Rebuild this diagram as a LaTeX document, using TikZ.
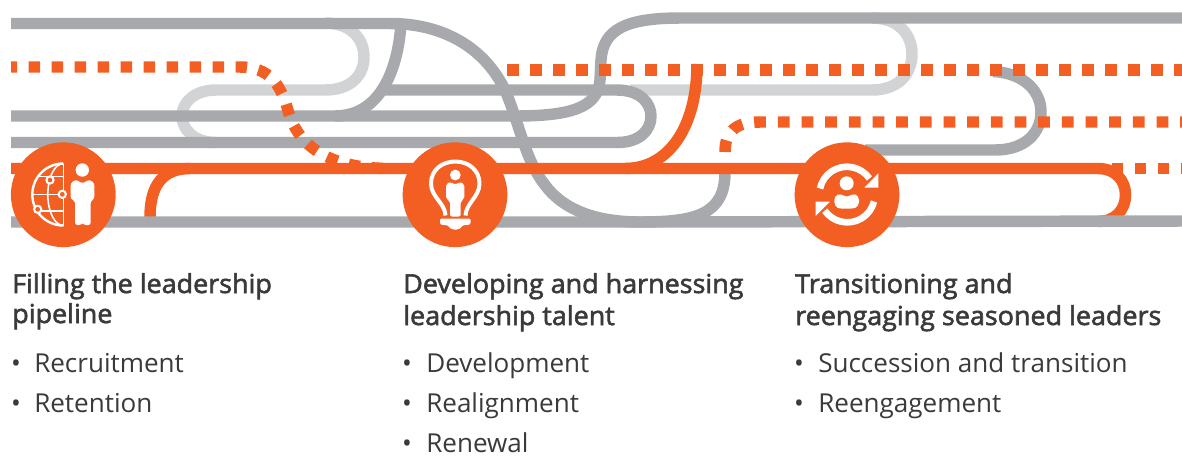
\documentclass[tikz,border=0pt]{standalone}
\usepackage{fontspec}
\setmainfont{Open Sans}
\newfontfamily\headfam{Open Sans}[FakeBold=2.2,FakeStretch=1.03]
\definecolor{gr}{HTML}{A7A9AC}
\definecolor{lg}{HTML}{D1D3D4}
\definecolor{og}{HTML}{F35E22}
\definecolor{tx}{HTML}{3A3A3C}
\newcommand{\headfont}{\headfam\fontsize{19.6pt}{24pt}\selectfont}
\newcommand{\itemfont}{\fontsize{19.55pt}{24pt}\selectfont}
\tikzset{
 lin/.style={line width=8.6pt,line join=round},
 grayline/.style={lin,draw=gr},
 lightline/.style={lin,draw=lg},
 orangeline/.style={lin,draw=og},
 dotline/.style={lin,draw=og,dash pattern=on 8.6pt off 8.65pt},
 disc/.style={circle,fill=og,minimum size=78.6pt,inner sep=0pt,draw=none},
 headtext/.style={anchor=base west,inner sep=0pt,text=tx,font=\headfont},
 itemtext/.style={anchor=base west,inner sep=0pt,text=tx,font=\itemfont},
 dotmark/.style={anchor=base,inner sep=0pt,text=tx,font=\itemfont},
 wline/.style={draw=white,line width=1.2pt},
 ring/.style={draw=white,fill=og,line width=1.5pt},
}
\begin{document}
\begin{tikzpicture}[x=0.75pt,y=-0.75pt]
\useasboundingbox (0,0) rectangle (1182,455);
% light gray
\draw[lightline] (325,23) .. controls (350,23) and (364,38) .. (364,57) .. controls (364,76) and (350,90) .. (325,90) -- (216,90) .. controls (195,90) and (182,102) .. (182,116) .. controls (182,130) and (195,142.5) .. (216,142.5);
\draw[lightline] (872,18) .. controls (898,18) and (912,34) .. (912,54) .. controls (912,74) and (898,90) .. (872,90) -- (630,90);
% gray
\draw[grayline] (11,23.5) -- (390,23.5) .. controls (440,23.5) and (483,45) .. (505,90) .. controls (520,125) and (525,160) .. (545,185) .. controls (565,212) and (600,222) .. (640,222);
\draw[grayline] (11,116) -- (335,116) .. controls (380,116) and (398,70) .. (401,23.5);
\draw[grayline] (380,90) -- (617,90) .. controls (640,90) and (651,103) .. (651,116) .. controls (651,130) and (640,142.5) .. (617,142.5) -- (11,142.5);
\draw[grayline] (335,116) -- (515,116) .. controls (570,116) and (598,108) .. (600,80) -- (601,60) .. controls (603,30) and (625,18) .. (680,18) -- (1182,18);
\draw[grayline] (640,222) .. controls (695,222) and (725,215) .. (725,172);
\draw[grayline] (993,71.5) .. controls (1025,73) and (1041,92) .. (1041,112) .. controls (1041,133) and (1025,150) .. (995,150) -- (865,150);
% orange
\draw[orangeline] (697,64) .. controls (697,125) and (670,168.5) .. (625,168.5);
\draw[orangeline] (150,217) .. controls (150,185) and (163,168.5) .. (190,168.5);
\draw[orangeline] (11,168.5) -- (1098,168.5) .. controls (1115,168.5) and (1125.5,180) .. (1125.5,195) .. controls (1125.5,210) and (1115,221.5) .. (1098,221.5);
\draw[dotline,dash phase=4.1pt] (11,67) -- (240,67) .. controls (270,67) and (280,85) .. (287,107) .. controls (294,135) and (315,168.5) .. (390,168.5);
\draw[dotline] (507.3,70) -- (1182,70);
\draw[dotline,dash pattern=on 8.85pt off 8.9pt] (725,152) .. controls (725,132) and (735,122) .. (760,122) -- (1182,122);
\draw[dotline] (1112,168.5) -- (1182,168.5);
\draw[grayline] (11,222) -- (640,222) -- (1182,221);
% discs
\node[disc] (c1) at (63.3,194.7) {};
\node[disc] (c2) at (455,194.7) {};
\node[disc] (c3) at (847,194.7) {};
% icon 1
\draw[wline] (63.3,163.5) arc (-90:-270:15.5 and 31);
\draw[wline] (63.3,163.5) -- (63.3,225.5);
\draw[white,line width=1.8pt] (63.3,163.5) arc (-90:-270:31);
\draw[wline] (39,176.5) -- (63.3,176.5) (32.5,194.5) -- (63.3,194.5) (38,211) -- (63.3,211);
\draw[ring] (50,180) circle (3.6);
\draw[ring] (62.3,194.3) circle (3.6);
\draw[ring] (37.7,209.3) circle (3.6);
\fill[white] (82.3,170) circle (6.7);
\fill[white,rounded corners=1.8] (70.7,183) -- (76,179.5) -- (82.5,183.5) -- (89,179.5) -- (94.3,183) -- (94.3,199) -- (90.7,201) -- (90.7,225) -- (83.5,225) -- (82.5,222) -- (81.5,225) -- (75,225) -- (75,201) -- (70.7,199) -- cycle;
% icon 2
\draw[white,line width=3pt,line join=round] (445.5,215.5) .. controls (445,203) and (431,197) .. (431,183.5) .. controls (431,170) and (442,161.5) .. (455.3,161.5) .. controls (468.5,161.5) and (479.5,170) .. (479.5,183.5) .. controls (479.5,197) and (466,203) .. (465.5,215.5);
\fill[white] (455.3,175) circle (5.4);
\fill[white,rounded corners=1.5] (446,184) -- (451,181.7) -- (455.3,185) -- (459.5,181.7) -- (464.3,184) -- (464.3,199) -- (460.7,201) -- (460.7,216.5) -- (450,216.5) -- (450,201) -- (446,199) -- cycle;
\fill[white,rounded corners=1] (440,218.5) -- (470.5,218.5) -- (470.5,224.5) -- (462,225.5) .. controls (461,228) and (459,229.5) .. (455.3,229.5) .. controls (451.5,229.5) and (449.5,228) .. (448.5,225.5) -- (440,224.5) -- cycle;
% icon 3
\fill[white] (846.7,183.3) circle (7);
\fill[white,rounded corners=3] (834.3,196) -- (841,193.3) -- (846.7,198) -- (852.5,193.3) -- (859,196) -- (859,206) .. controls (853,209) and (840,209) .. (834.3,206) -- cycle;
\draw[white,line width=5pt] (820,188.5) arc (-168:-35:27.5);
\fill[white] (878.3,173.3) -- (878.3,187.7) -- (864.3,187.7) -- cycle;
\draw[white,line width=5pt] (874,201.5) arc (14:145:27.5);
\fill[white] (815.7,201.7) -- (815.7,216) -- (830,201.7) -- cycle;
% text
\node[headtext] (h1a) at (12,293) {Filling the leadership};
\node[headtext] (h1b) at (12,323) {pipeline};
\node[dotmark] (b1a) at (16,372) {•};
\node[itemtext] (i1a) at (34,372) {Recruitment};
\node[dotmark] (b1b) at (16,412) {•};
\node[itemtext] (i1b) at (34,412) {Retention};
\node[headtext] (h2a) at (403,293) {Developing and harnessing};
\node[headtext] (h2b) at (403,325) {leadership talent};
\node[dotmark] (b2a) at (407,372.5) {•};
\node[itemtext] (i2a) at (426,372.5) {Development};
\node[dotmark] (b2b) at (407,412.5) {•};
\node[itemtext] (i2b) at (426,412.5) {Realignment};
\node[dotmark] (b2c) at (407,452) {•};
\node[itemtext] (i2c) at (426,452) {Renewal};
\node[headtext] (h3a) at (795,293) {Transitioning and};
\node[headtext] (h3b) at (795,325) {reengaging seasoned leaders};
\node[dotmark] (b3a) at (799,372.5) {•};
\node[itemtext] (i3a) at (818,372.5) {Succession and transition};
\node[dotmark] (b3b) at (799,412.5) {•};
\node[itemtext] (i3b) at (818,412.5) {Reengagement};
\end{tikzpicture}
\end{document}
